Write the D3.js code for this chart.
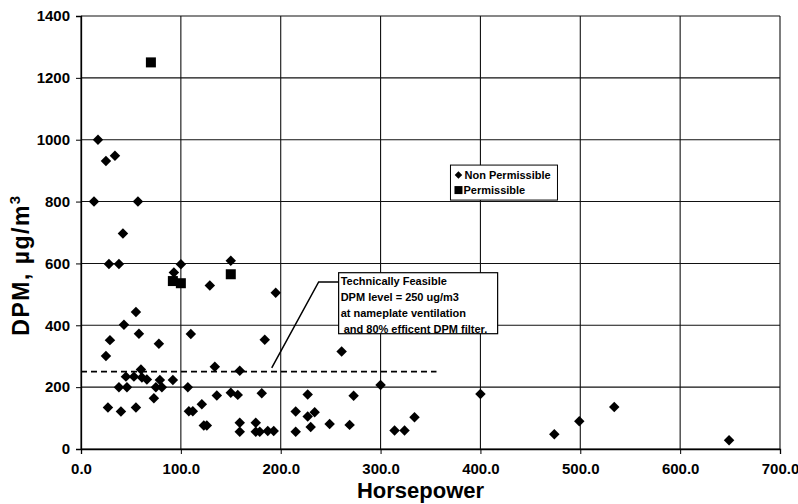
<!DOCTYPE html>
<html>
<head>
<meta charset="utf-8">
<script src="https://cdn.jsdelivr.net/npm/d3@7"></script>
<style>
  body { margin: 0; background: #fff; }
  text { font-family: "Liberation Sans", Arial, sans-serif; font-weight: bold; fill: #000; }
</style>
</head>
<body>
<div id="chart"></div>
<script>
// Non permissible engines: horsepower / DPM
var npHp = [17, 25, 34, 13, 57, 42, 28, 38, 100, 93, 129, 150, 195, 55, 43, 29, 58, 25, 78, 110,
  184, 261, 60, 45, 53, 61, 66, 79, 92, 134, 159, 38, 46, 75, 81, 107, 300, 73, 27, 55,
  40, 108, 112, 121, 136, 150, 157, 181, 227, 273, 123, 126, 159, 159, 175, 175, 179, 187, 193, 215,
  227, 234, 249, 269, 230, 215, 334, 314, 324, 400, 474, 499, 534, 649];
var npDpm = [1000, 931, 948, 800, 800, 697, 598, 598, 597, 571, 529, 609, 505, 443, 402, 352, 373, 301, 340, 372,
  353, 315, 257, 234, 234, 231, 225, 223, 223, 266, 253, 200, 200, 200, 200, 200, 207, 164, 134, 134,
  121, 122, 122, 145, 173, 182, 175, 180, 176, 172, 76, 76, 85, 56, 85, 56, 56, 58, 58, 121,
  105, 119, 81, 78, 71, 56, 103, 60, 60, 178, 48, 90, 136, 28];

// Permissible engines
var pHp = [70, 92, 100, 150];
var pDpm = [1250, 543, 536, 565];

var xTicks = [0, 100, 200, 300, 400, 500, 600, 700];
var yTicks = [0, 200, 400, 600, 800, 1000, 1200, 1400];
var feasibleLevel = 250;
var noteLines = ["Technically Feasible", "DPM level = 250 ug/m3", "at nameplate ventilation", " and 80% efficent DPM filter."];
var legendLabels = ["Non Permissible", "Permissible"];

var W = 798, H = 504;
var margin = { top: 16, right: 18, bottom: 55, left: 81 };
var iw = W - margin.left - margin.right, ih = H - margin.top - margin.bottom;

var svg = d3.select('#chart').append('svg').attr('width', W).attr('height', H);
var g = svg.append('g').attr('transform', 'translate(' + margin.left + ',' + margin.top + ')');

var x = d3.scaleLinear().domain([0, 700]).range([0, iw]);
var y = d3.scaleLinear().domain([0, 1400]).range([ih, 0]);

// grid
g.selectAll('line.vg').data(xTicks).enter().append('line')
  .attr('x1', d => x(d)).attr('x2', d => x(d)).attr('y1', 0).attr('y2', ih)
  .attr('stroke', '#111').attr('stroke-width', 1.1);
g.selectAll('line.hg').data(yTicks).enter().append('line')
  .attr('x1', 0).attr('x2', iw).attr('y1', d => y(d)).attr('y2', d => y(d))
  .attr('stroke', '#111').attr('stroke-width', 1.1);

// axes
var xAxis = g.append('g').attr('transform', 'translate(0,' + ih + ')')
  .call(d3.axisBottom(x).tickValues(xTicks).tickSize(5).tickPadding(9).tickFormat(d3.format('.1f')));
var yAxis = g.append('g')
  .call(d3.axisLeft(y).tickValues(yTicks).tickSize(5).tickPadding(6).tickFormat(d3.format('d')));
[xAxis, yAxis].forEach(function(a) {
  a.select('.domain').attr('stroke', '#000').attr('stroke-width', 1.3);
  a.selectAll('line').attr('stroke', '#000');
  a.selectAll('text').style('font-size', '15px').style('font-weight', 'bold').attr('fill', '#000');
});

// dashed feasibility line
g.append('line')
  .attr('x1', x(0)).attr('x2', x(356)).attr('y1', y(feasibleLevel)).attr('y2', y(feasibleLevel))
  .attr('stroke', '#000').attr('stroke-width', 1.8).attr('stroke-dasharray', '6,4');

// points
var diamond = d3.symbol().type(d3.symbolDiamond2).size(70);
g.selectAll('path.np').data(d3.range(npHp.length)).enter().append('path')
  .attr('d', diamond)
  .attr('transform', i => 'translate(' + x(npHp[i]) + ',' + y(npDpm[i]) + ')')
  .attr('fill', '#000');
g.selectAll('rect.p').data(d3.range(pHp.length)).enter().append('rect')
  .attr('x', i => x(pHp[i]) - 5).attr('y', i => y(pDpm[i]) - 5)
  .attr('width', 10).attr('height', 10).attr('fill', '#000');

// annotation leader + box
g.append('polyline')
  .attr('points', [[x(191), y(262)], [x(238), y(540)], [x(258), y(540)]].join(' '))
  .attr('fill', 'none').attr('stroke', '#000').attr('stroke-width', 1.5);
var note = g.append('g').attr('transform', 'translate(' + x(258) + ',' + y(570) + ')');
note.append('rect').attr('width', 159).attr('height', 61)
  .attr('fill', '#fff').attr('stroke', '#000').attr('stroke-width', 1.2);
note.selectAll('text').data(noteLines).enter().append('text')
  .attr('x', 2).attr('y', (d, i) => 12 + i * 16)
  .attr('xml:space', 'preserve')
  .style('font-size', '11px').text(d => d);

// legend
var leg = g.append('g').attr('transform', 'translate(' + x(370) + ',' + y(918) + ')');
leg.append('rect').attr('width', 107).attr('height', 35)
  .attr('fill', '#fff').attr('stroke', '#000').attr('stroke-width', 1);
leg.append('path').attr('d', d3.symbol().type(d3.symbolDiamond2).size(36))
  .attr('transform', 'translate(8,10)').attr('fill', '#000');
leg.append('rect').attr('x', 4).attr('y', 21).attr('width', 8).attr('height', 8).attr('fill', '#000');
leg.selectAll('text').data(legendLabels).enter().append('text')
  .attr('x', (d, i) => i ? 13 : 14).attr('y', (d, i) => 14 + i * 15)
  .style('font-size', '11px').text(d => d);

// axis titles
svg.append('text').attr('x', margin.left + x(340)).attr('y', 498)
  .attr('text-anchor', 'middle').style('font-size', '22px').text('Horsepower');
var yl = svg.append('text').attr('transform', 'translate(29,265) rotate(-90)')
  .attr('text-anchor', 'middle').style('font-size', '23px').style('letter-spacing', '1.5px');
yl.append('tspan').text('DPM, µg/m');
yl.append('tspan').attr('dy', -9).style('font-size', '15px').text('3');
</script>
</body>
</html>
